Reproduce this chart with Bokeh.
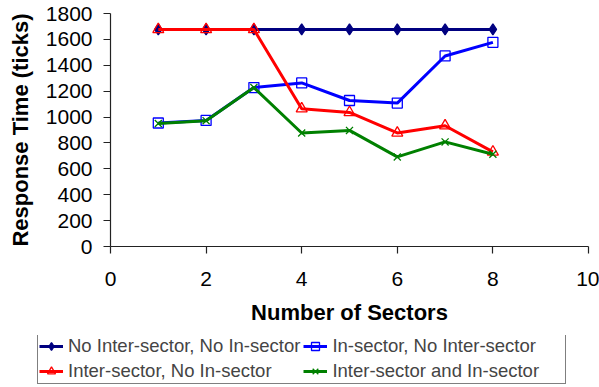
from bokeh.plotting import figure
from bokeh.models import Legend, LegendItem, Range1d, FixedTicker, ColumnDataSource
from bokeh.embed import file_html
from bokeh.resources import INLINE

# Number of sectors
sectors = [1, 2, 3, 4, 5, 6, 7, 8]

# Response time (ticks) for each configuration
no_inter_no_in = [1677, 1677, 1677, 1677, 1677, 1677, 1677, 1677]
in_no_inter = [954, 974, 1228, 1264, 1128, 1108, 1472, 1577]
inter_no_in = [1677, 1677, 1677, 1064, 1036, 877, 933, 731]
inter_and_in = [950, 972, 1228, 877, 897, 692, 808, 713]

series_labels = [
    "No Inter-sector, No In-sector",
    "In-sector, No Inter-sector",
    "Inter-sector, No In-sector",
    "Inter-sector and In-sector",
]

x_ticks = [0, 2, 4, 6, 8, 10]
y_ticks = [0, 200, 400, 600, 800, 1000, 1200, 1400, 1600, 1800]

FONT = "Liberation Sans"
LW = 3

# series styles: (values, color, marker, size, filled)
styles = [
    (no_inter_no_in, "#000080", "diamond", 11, True),
    (in_no_inter, "#0000FF", "square", 10, False),
    (inter_no_in, "#FF0000", "triangle", 11, False),
    (inter_and_in, "#008000", "x", 10, False),
]


def add_series(fig, xs, ys, color, marker, size, filled):
    src = ColumnDataSource(data=dict(x=xs, y=ys))
    rl = fig.line("x", "y", source=src, line_color=color, line_width=LW)
    rm = fig.scatter("x", "y", source=src, marker=marker, size=size,
                     fill_color=color if filled else None,
                     line_color=color, line_width=1.3)
    return rl, rm


# ---- main chart ----
p = figure(
    width=599, height=335,
    output_backend="svg", toolbar_location=None,
    x_range=Range1d(0, 10), y_range=Range1d(0, 1800),
    min_border_left=110, min_border_right=11,
    min_border_top=13, min_border_bottom=89,
)
p.outline_line_color = None
p.xgrid.grid_line_color = None
p.ygrid.grid_line_color = None

for ys, color, marker, size, filled in styles:
    add_series(p, sectors, ys, color, marker, size, filled)

for ax in (p.xaxis[0], p.yaxis[0]):
    ax.axis_line_color = "#222222"
    ax.axis_line_width = 1.2
    ax.major_tick_line_color = "#222222"
    ax.major_tick_line_width = 1.2
    ax.major_tick_in = 0
    ax.major_tick_out = 7
    ax.minor_tick_line_color = None
    ax.major_label_text_font = FONT
    ax.major_label_text_font_size = "21px"
    ax.major_label_text_color = "black"
    ax.axis_label_text_font = FONT
    ax.axis_label_text_font_size = "22px"
    ax.axis_label_text_font_style = "bold"
    ax.axis_label_text_color = "black"

p.xaxis[0].ticker = FixedTicker(ticks=x_ticks)
p.yaxis[0].ticker = FixedTicker(ticks=y_ticks)
p.xaxis[0].axis_label = "Number of Sectors"
p.yaxis[0].axis_label = "Response Time (ticks)"
p.xaxis[0].major_label_standoff = 18
p.yaxis[0].major_label_standoff = 11
p.xaxis[0].axis_label_standoff = 11
p.yaxis[0].axis_label_standoff = 10

# ---- legend strip (series drawn off-range so only the legend shows) ----
lg = figure(
    width=599, height=52,
    output_backend="svg", toolbar_location=None,
    x_range=Range1d(100, 101), y_range=Range1d(0, 1),
    min_border_left=0, min_border_right=0,
    min_border_top=0, min_border_bottom=0,
)
lg.axis.visible = False
lg.grid.visible = False
lg.outline_line_color = None

entries = []
for (ys, color, marker, size, filled), label in zip(styles, series_labels):
    rl, rm = add_series(lg, sectors, ys, color, marker, size, filled)
    entries.append(LegendItem(label=label, renderers=[rl, rm]))

# two columns, filled column by column
order = [0, 2, 1, 3]
legend = Legend(
    items=[entries[i] for i in order],
    ncols=2,
    location=(37, 3),
    border_line_color="black",
    border_line_width=1,
    background_fill_alpha=1,
    label_text_font=FONT,
    label_text_font_size="18.5px",
    label_height=21,
    label_width=232,
    glyph_height=20,
    glyph_width=24,
    label_standoff=5,
    spacing=3,
    padding=1,
    margin=0,
)
lg.add_layout(legend, "center")

open("out.html", "w").write(file_html([p, lg], INLINE))
